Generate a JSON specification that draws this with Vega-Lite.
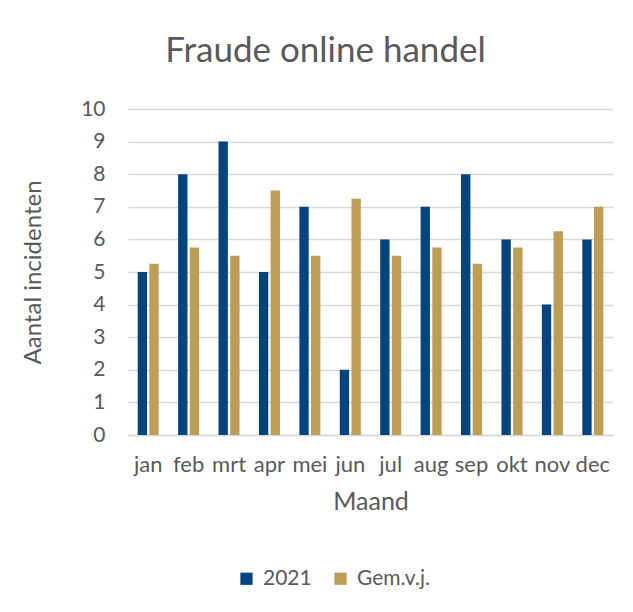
{
  "$schema": "https://vega.github.io/schema/vega-lite/v6.json",
  "width": 485,
  "height": 326,
  "autosize": "none",
  "padding": {"left": 128, "top": 109, "right": 20, "bottom": 177},
  "background": "white",
  "title": {
    "text": "Fraude online handel",
    "anchor": "middle",
    "dx": -45,
    "offset": 29,
    "font": "Lato",
    "fontSize": 35,
    "fontWeight": "normal",
    "color": "#595959"
  },
  "data": {
    "values": [
      {"maand": "jan", "reeks": "2021", "aantal": 5},
      {"maand": "feb", "reeks": "2021", "aantal": 8},
      {"maand": "mrt", "reeks": "2021", "aantal": 9},
      {"maand": "apr", "reeks": "2021", "aantal": 5},
      {"maand": "mei", "reeks": "2021", "aantal": 7},
      {"maand": "jun", "reeks": "2021", "aantal": 2},
      {"maand": "jul", "reeks": "2021", "aantal": 6},
      {"maand": "aug", "reeks": "2021", "aantal": 7},
      {"maand": "sep", "reeks": "2021", "aantal": 8},
      {"maand": "okt", "reeks": "2021", "aantal": 6},
      {"maand": "nov", "reeks": "2021", "aantal": 4},
      {"maand": "dec", "reeks": "2021", "aantal": 6},
      {"maand": "jan", "reeks": "Gem.v.j.", "aantal": 5.25},
      {"maand": "feb", "reeks": "Gem.v.j.", "aantal": 5.75},
      {"maand": "mrt", "reeks": "Gem.v.j.", "aantal": 5.5},
      {"maand": "apr", "reeks": "Gem.v.j.", "aantal": 7.5},
      {"maand": "mei", "reeks": "Gem.v.j.", "aantal": 5.5},
      {"maand": "jun", "reeks": "Gem.v.j.", "aantal": 7.25},
      {"maand": "jul", "reeks": "Gem.v.j.", "aantal": 5.5},
      {"maand": "aug", "reeks": "Gem.v.j.", "aantal": 5.75},
      {"maand": "sep", "reeks": "Gem.v.j.", "aantal": 5.25},
      {"maand": "okt", "reeks": "Gem.v.j.", "aantal": 5.75},
      {"maand": "nov", "reeks": "Gem.v.j.", "aantal": 6.25},
      {"maand": "dec", "reeks": "Gem.v.j.", "aantal": 7}
    ]
  },
  "mark": {"type": "bar"},
  "encoding": {
    "x": {
      "field": "maand",
      "type": "nominal",
      "sort": ["jan", "feb", "mrt", "apr", "mei", "jun", "jul", "aug", "sep", "okt", "nov", "dec"],
      "scale": {"paddingInner": 0.48, "paddingOuter": 0.24},
      "axis": {
        "title": "Maand",
        "labelAngle": 0,
        "ticks": false,
        "domainColor": "#d9d9d9",
        "domainWidth": 1.3,
        "labelPadding": 19,
        "titlePadding": 14,
        "labelFont": "Lato",
        "labelFontSize": 22,
        "labelColor": "#595959",
        "titleFont": "Lato",
        "titleFontSize": 25,
        "titleFontWeight": "normal",
        "titleColor": "#595959"
      }
    },
    "xOffset": {
      "field": "reeks",
      "type": "nominal",
      "scale": {"paddingInner": 0.2, "paddingOuter": 0}
    },
    "y": {
      "field": "aantal",
      "type": "quantitative",
      "scale": {"domain": [0, 10]},
      "axis": {
        "title": "Aantal incidenten",
        "values": [0, 1, 2, 3, 4, 5, 6, 7, 8, 9, 10],
        "labelOverlap": false,
        "ticks": false,
        "domain": false,
        "gridColor": "#d9d9d9",
        "gridWidth": 1.3,
        "labelPadding": 23,
        "titlePadding": 35,
        "labelFont": "Lato",
        "labelFontSize": 21,
        "labelColor": "#595959",
        "titleFont": "Lato",
        "titleFontSize": 24,
        "titleFontWeight": "normal",
        "titleColor": "#595959"
      }
    },
    "color": {
      "field": "reeks",
      "type": "nominal",
      "scale": {"domain": ["2021", "Gem.v.j."], "range": ["#004480", "#BF9D53"]},
      "legend": {
        "title": null,
        "orient": "none",
        "direction": "horizontal",
        "legendX": 108,
        "legendY": 459,
        "symbolType": "square",
        "symbolSize": 150,
        "symbolStrokeWidth": 0,
        "columnPadding": 18,
        "labelOffset": 6,
        "labelFont": "Lato",
        "labelFontSize": 21,
        "labelColor": "#595959"
      }
    }
  },
  "config": {
    "view": {"stroke": null}
  }
}
